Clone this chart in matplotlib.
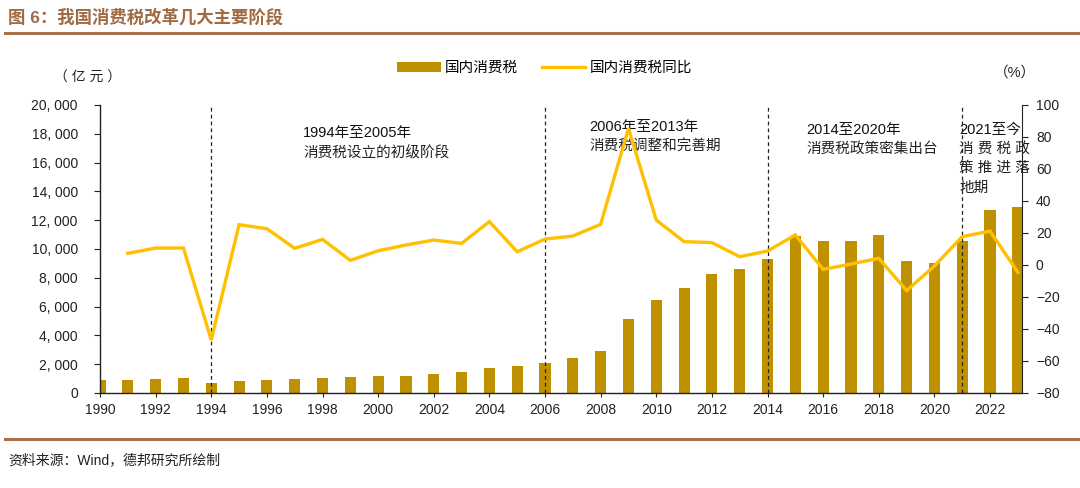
import matplotlib
matplotlib.use("Agg")
import matplotlib.pyplot as plt
from matplotlib.lines import Line2D
from matplotlib.patches import Patch
from matplotlib.ticker import FuncFormatter

plt.rcParams['font.family'] = ['Liberation Sans', 'Noto Sans CJK SC', 'DejaVu Sans']
plt.rcParams['axes.unicode_minus'] = True

years = list(range(1990, 2024))
tax = [880, 880, 970, 1020, 720, 810, 880, 950, 1060, 1080,
       1150, 1200, 1340, 1440, 1760, 1870, 2100, 2430, 2940, 5110,
       6450, 7290, 8240, 8590, 9280, 10890, 10570, 10570, 11000, 9180,
       9040, 10570, 12700, 12930]
yoy_years = list(range(1991, 2024))
yoy = [7.3, 10.6, 10.6, -46.9, 25.2, 22.7, 10.4, 16.0, 2.9, 8.9,
       12.5, 15.6, 13.5, 27.1, 8.3, 16.2, 18.1, 25.4, 85.4, 28.1,
       14.6, 14.0, 5.2, 8.7, 18.8, -2.7, 0.6, 4.2, -16.0, -0.6,
       17.7, 21.2, -4.5]
phase_years = [1994, 2006, 2014, 2021]
left_ticks = list(range(0, 20001, 2000))
right_ticks = list(range(-80, 101, 20))
x_ticks = list(range(1990, 2023, 2))

BAR = '#BF9000'
LINE = '#FFC000'
BROWN = '#A8714A'

fig = plt.figure(figsize=(10.8, 4.88), dpi=100)
ax = fig.add_axes([100/1080, 1-393/488, 922/1080, 288/488])
ax2 = ax.twinx()

ax.bar(years, tax, width=0.4, color=BAR, zorder=2)
ax2.plot(yoy_years, yoy, color=LINE, lw=2.4, zorder=3, solid_joinstyle='miter')
for py in phase_years:
    ax2.axvline(py, color='#222222', lw=0.9, ls=(0, (3, 2.5)), zorder=2)

ax.set_xlim(1990, 2023.15)
ax.set_ylim(0, 20000)
ax2.set_ylim(-80, 100)
ax.set_xticks(x_ticks)
ax.set_yticks(left_ticks)
ax2.set_yticks(right_ticks)
ax.yaxis.set_major_formatter(FuncFormatter(lambda v, p: f"{int(v):,}".replace(',', ', ')))

for a in (ax, ax2):
    a.spines['top'].set_visible(False)
    a.patch.set_visible(False)
ax.spines['right'].set_visible(False)
for s in ('left', 'bottom'):
    ax.spines[s].set_color('#222222')
    ax.spines[s].set_linewidth(1.0)
ax2.spines['right'].set_color('#222222')
ax2.spines['left'].set_visible(False)
ax2.spines['bottom'].set_visible(False)

ax.tick_params(axis='y', direction='out', length=4, width=0.8, pad=12, labelsize=10, colors='#222222')
ax.tick_params(axis='x', direction='inout', length=6, width=0.8, pad=4, labelsize=10, colors='#222222')
ax2.tick_params(axis='y', direction='out', length=4, width=0.8, pad=6, labelsize=10, colors='#222222')

# phase annotations
fs = 10.5
ax.text(1997.3, 18050, '1994年至2005年', fontsize=fs, va='center', ha='left', color='#111111')
ax.text(1997.3, 16650, '消费税设立的初级阶段', fontsize=fs, va='center', ha='left', color='#222222')
ax.text(2007.6, 18460, '2006年至2013年', fontsize=fs, va='center', ha='left', color='#111111')
ax.text(2007.6, 17070, '消费税调整和完善期', fontsize=fs, va='center', ha='left', color='#222222')
ax.text(2015.4, 18250, '2014至2020年', fontsize=fs, va='center', ha='left', color='#111111')
ax.text(2015.4, 16930, '消费税政策密集出台', fontsize=fs, va='center', ha='left', color='#222222')
ax.text(2020.9, 18250, '2021至今', fontsize=fs, va='center', ha='left', color='#111111')
ax.text(2020.9, 16930, '消 费 税 政', fontsize=fs, va='center', ha='left', color='#222222')
ax.text(2020.9, 15610, '策 推 进 落', fontsize=fs, va='center', ha='left', color='#222222')
ax.text(2020.9, 14230, '地期', fontsize=fs, va='center', ha='left', color='#222222')

# unit labels
fig.text(88/1080, 1-78/488, '（ 亿 元 ）', fontsize=10, ha='center', va='center', color='#222222')
fig.text(1015/1080, 1-73/488, '（%）', fontsize=10.5, ha='center', va='center', color='#222222')

# legend
handles = [Patch(facecolor=BAR, edgecolor='none', label='国内消费税'),
           Line2D([0], [0], color=LINE, lw=2.4, label='国内消费税同比')]
fig.legend(handles=handles, loc='center left', bbox_to_anchor=(397/1080, 1-68/488),
           ncol=2, frameon=False, fontsize=10.5, handlelength=3.0, handleheight=0.75,
           handletextpad=0.3, columnspacing=1.6, borderpad=0, borderaxespad=0)

# title and rules
fig.text(8/1080, 1-17/488, '图 6：我国消费税改革几大主要阶段', fontsize=12.5, fontweight='bold',
         color='#9E6B45', ha='left', va='center')
fig.add_artist(Line2D([5/1080, 1], [1-33/488, 1-33/488], color=BROWN, lw=2.2))
fig.add_artist(Line2D([5/1080, 1], [1-439/488, 1-439/488], color=BROWN, lw=2.2))
fig.text(8/1080, 1-460/488, '资料来源：Wind，德邦研究所绘制', fontsize=10, color='#222222',
         ha='left', va='center')

fig.savefig('out.png', dpi=100)
